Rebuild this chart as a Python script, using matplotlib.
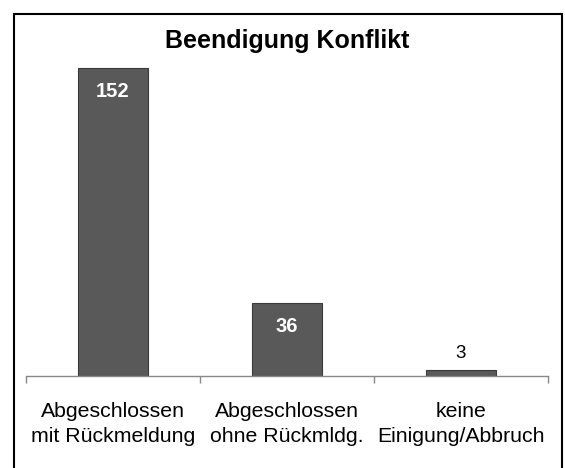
import matplotlib
matplotlib.use("Agg")
import matplotlib.pyplot as plt
from matplotlib.patches import Rectangle

categories = ["Abgeschlossen\nmit Rückmeldung", "Abgeschlossen\nohne Rückmldg.", "keine\nEinigung/Abbruch"]
values = [152, 36, 3]
title = "Beendigung Konflikt"

plt.rcParams['font.family'] = ['Liberation Sans', 'DejaVu Sans']

W, H = 565, 468
fig = plt.figure(figsize=(W / 100, H / 100), dpi=100)
fig.patch.set_facecolor('white')

ax = fig.add_axes([26 / W, (H - 376) / H, (548 - 26) / W, (376 - 60) / H])
x = list(range(len(values)))
bars = ax.bar(x, values, width=0.4, color='#595959', edgecolor='#3a3a3a', linewidth=0.8, zorder=2)
ax.set_xlim(-0.5, len(values) - 0.5)
ax.set_ylim(0, 156)

for s in ['top', 'right', 'left']:
    ax.spines[s].set_visible(False)
ax.spines['bottom'].set_color('#888888')
ax.spines['bottom'].set_linewidth(1.0)
ax.set_yticks([])
ax.set_xticks(x)
ax.set_xticklabels(categories, fontsize=15.3, linespacing=1.35)
ax.tick_params(axis='x', which='major', length=0, pad=19)
ax.set_xticks([i - 0.5 for i in range(len(values) + 1)], minor=True)
ax.tick_params(axis='x', which='minor', length=5, color='#888888', width=1.0, direction='out')

for b, v in zip(bars, values):
    cx = b.get_x() + b.get_width() / 2
    if v > 20:
        ax.annotate(str(v), (cx, v), xytext=(0, -14), textcoords='offset pixels',
                    ha='center', va='top', color='white', fontweight='bold', fontsize=14.5)
    else:
        ax.annotate(str(v), (cx, v), xytext=(0, 8), textcoords='offset pixels',
                    ha='center', va='bottom', color='black', fontsize=13.5)

fig.text(287 / W, 1 - 48 / H, title, ha='center', va='baseline', fontsize=18, fontweight='bold')

fig.patches.append(Rectangle((14 / W, -0.1), (562 - 14) / W, 1.1 - 14 / H, transform=fig.transFigure,
                             fill=False, edgecolor='black', linewidth=1.5, figure=fig))

fig.savefig('out.png', dpi=100, facecolor='white')
